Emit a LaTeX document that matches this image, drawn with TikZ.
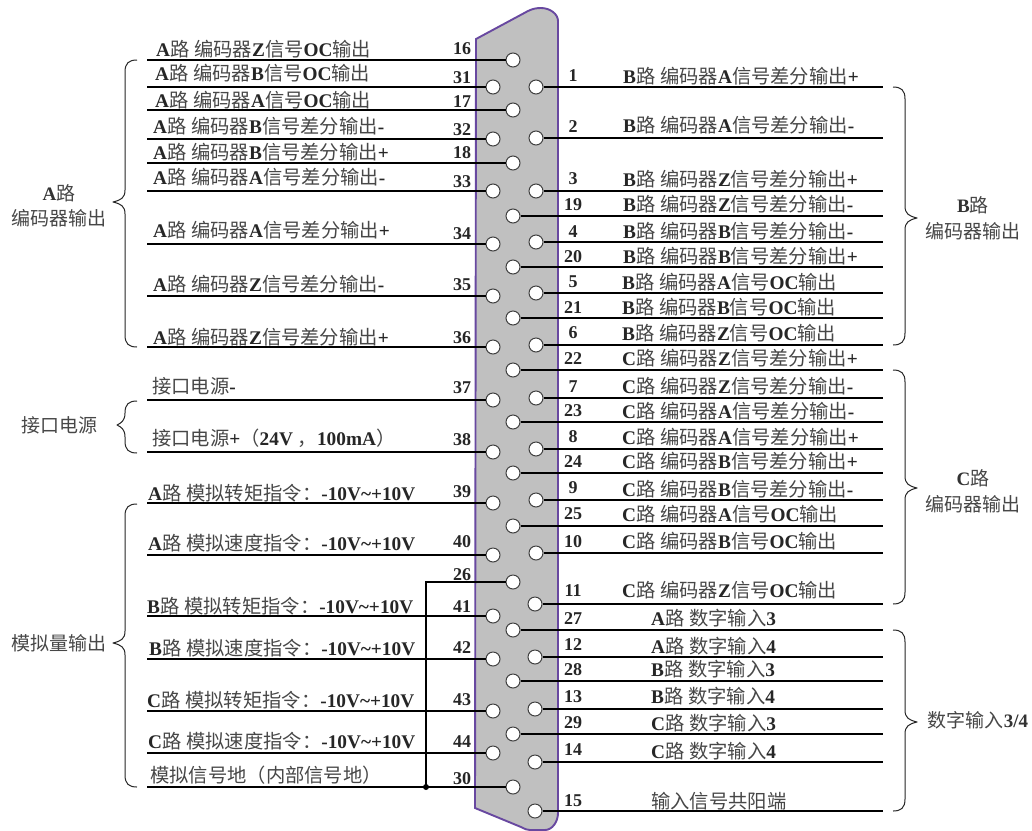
\documentclass[tikz,border=0pt]{standalone}
\usepackage{fontspec}
\setmainfont{Liberation Serif}
\newfontfamily\cjk{Noto Sans CJK SC}
\newcommand{\zh}[1]{{\cjk\mdseries\color{black!72}#1}}
\tikzset{
  pin/.style={circle,draw=black!75,fill=white,line width=1pt,minimum size=14pt,inner sep=0pt},
  wire/.style={line width=1.4pt,black},
  lab/.style={anchor=west,inner sep=0pt,yshift=1pt,font=\fontsize{19.3}{19.3}\selectfont\bfseries,text=black!85},
  num/.style={inner sep=0pt,font=\fontsize{18}{18}\selectfont\bfseries,text=black!85},
  side/.style={inner sep=0pt,font=\fontsize{19}{19}\selectfont\bfseries,text=black!80},
  brace/.style={line width=1pt,black!85,line join=round},
  shell/.style={draw={rgb,255:red,104;green,72;blue,160},fill={rgb,255:red,192;green,192;blue,192},line width=1.9pt}
}
% left pin: number, pin x, pin y, label x, label y, number y, text
\newcommand{\lpin}[7]{%
  \node[pin] (p#1) at (#2,#3) {};
  \coordinate (e#1) at (147,#3);
  \draw[wire] (e#1) -- (p#1.west);
  \node[lab] (t#1) at (#4,#5) {#7};
  \node[num] (n#1) at (462,#6) {#1};
}
% right pin: number, pin x, pin y, label x, label y, number y, text
\newcommand{\rpin}[7]{%
  \node[pin] (p#1) at (#2,#3) {};
  \coordinate (e#1) at (883,#3);
  \draw[wire] (p#1.east) -- (e#1);
  \node[lab] (t#1) at (#4,#5) {#7};
  \node[num] (n#1) at (573,#6) {#1};
}
\newcommand{\leftbr}[5]{% end x, top, tip y, bottom, tip x
  \draw[brace] (#1,#2) .. controls (#1-8,#2) and (#1-12,#2+3) .. (#1-12,#2+12)
    -- (#1-12,#3-12) .. controls (#1-12,#3-4) and (#1-16,#3-2) .. (#5,#3)
    .. controls (#1-16,#3+2) and (#1-12,#3+4) .. (#1-12,#3+12)
    -- (#1-12,#4-12) .. controls (#1-12,#4-3) and (#1-8,#4) .. (#1,#4);
}
\newcommand{\rightbr}[5]{%
  \draw[brace] (#1,#2) .. controls (#1+8,#2) and (#1+12,#2+3) .. (#1+12,#2+12)
    -- (#1+12,#3-12) .. controls (#1+12,#3-4) and (#1+16,#3-2) .. (#5,#3)
    .. controls (#1+16,#3+2) and (#1+12,#3+4) .. (#1+12,#3+12)
    -- (#1+12,#4-12) .. controls (#1+12,#4-3) and (#1+8,#4) .. (#1,#4);
}
\newcommand{\Lu}[1]{#1\zh{路}}
\newcommand{\Bm}[1]{\Lu{#1} \zh{编码器}}
\begin{document}
\begin{tikzpicture}[x=1pt,y=-1pt]
\useasboundingbox (0,0) rectangle (1032,830);
\fill[white] (0,0) rectangle (1032,830);
\path[shell] (476,39) -- (528,11) .. controls (533,8.5) and (537,8) .. (541,8)
  .. controls (550,8) and (558,14) .. (558,21) -- (558,813)
  .. controls (558,822) and (552,830) .. (545,830) -- (530,830)
  .. controls (527,830) and (525,829) .. (521,827) -- (475,808) -- cycle;

\lpin{16}{513}{60}{156}{50}{49}{\Bm{A}Z\zh{信号}OC\zh{输出}}
\lpin{31}{493}{87}{155}{74}{78}{\Bm{A}B\zh{信号}OC\zh{输出}}
\lpin{17}{513}{110}{155}{101}{102}{\Bm{A}A\zh{信号}OC\zh{输出}}
\lpin{32}{493}{139}{153}{127}{130}{\Bm{A}B\zh{信号差分输出}-}
\lpin{18}{513}{163}{153}{153}{153}{\Bm{A}B\zh{信号差分输出}+}
\lpin{33}{493}{191}{153}{178}{182}{\Bm{A}A\zh{信号差分输出}-}
\lpin{34}{493}{244}{153}{231}{234}{\Bm{A}A\zh{信号差分输出}+}
\lpin{35}{493}{296}{153}{285}{285}{\Bm{A}Z\zh{信号差分输出}-}
\lpin{36}{493}{347}{153}{338}{338}{\Bm{A}Z\zh{信号差分输出}+}
\lpin{37}{493}{400}{152}{387}{388}{\zh{接口电源}-}
\lpin{38}{493}{452}{152}{439}{440}{\zh{接口电源}+\zh{（}24V \zh{，}100mA\zh{）}}
\lpin{39}{493}{503}{148}{494}{492}{\Lu{A} \zh{模拟转矩指令：}-10V\textasciitilde+10V}
\lpin{40}{493}{555}{148}{544}{542}{\Lu{A} \zh{模拟速度指令：}-10V\textasciitilde+10V}
\lpin{41}{493}{616}{147}{607}{607}{\Lu{B} \zh{模拟转矩指令：}-10V\textasciitilde+10V}
\lpin{42}{493}{659}{149}{649}{648}{\Lu{B} \zh{模拟速度指令：}-10V\textasciitilde+10V}
\lpin{43}{493}{711}{147}{701}{700}{\Lu{C} \zh{模拟转矩指令：}-10V\textasciitilde+10V}
\lpin{44}{493}{753}{148}{742}{742}{\Lu{C} \zh{模拟速度指令：}-10V\textasciitilde+10V}
\lpin{30}{513}{787}{150}{776}{779}{\zh{模拟信号地（内部信号地）}}

\node[pin] (p26) at (513,582) {};
\node[num] (n26) at (462,575) {26};
\coordinate (j) at (426,787);
\draw[wire] (j) |- (p26.west);
\fill[black] (j) circle (3pt);

\rpin{1}{536}{87}{623}{77}{76}{\Bm{B}A\zh{信号差分输出}+}
\rpin{2}{536}{138}{623}{126}{127}{\Bm{B}A\zh{信号差分输出}-}
\rpin{3}{536}{191}{623}{180}{179}{\Bm{B}Z\zh{信号差分输出}+}
\rpin{19}{513}{216}{623}{205}{205}{\Bm{B}Z\zh{信号差分输出}-}
\rpin{4}{536}{242}{623}{232}{232}{\Bm{B}B\zh{信号差分输出}-}
\rpin{20}{513}{267}{623}{257}{257}{\Bm{B}B\zh{信号差分输出}+}
\rpin{5}{536}{293}{622}{283}{282}{\Bm{B}A\zh{信号}OC\zh{输出}}
\rpin{21}{513}{318}{622}{308}{308}{\Bm{B}B\zh{信号}OC\zh{输出}}
\rpin{6}{536}{345}{622}{334}{333}{\Bm{B}Z\zh{信号}OC\zh{输出}}
\rpin{22}{513}{370}{622}{359}{359}{\Bm{C}Z\zh{信号差分输出}+}
\rpin{7}{536}{398}{622}{387}{387}{\Bm{C}Z\zh{信号差分输出}-}
\rpin{23}{513}{422}{622}{412}{411}{\Bm{C}A\zh{信号差分输出}-}
\rpin{8}{536}{449}{622}{438}{437}{\Bm{C}A\zh{信号差分输出}+}
\rpin{24}{513}{473}{622}{462}{462}{\Bm{C}B\zh{信号差分输出}+}
\rpin{9}{536}{500}{622}{490}{488}{\Bm{C}B\zh{信号差分输出}-}
\rpin{25}{513}{526}{622}{515}{514}{\Bm{C}A\zh{信号}OC\zh{输出}}
\rpin{10}{536}{553}{622}{542}{542}{\Bm{C}B\zh{信号}OC\zh{输出}}
\rpin{11}{535}{604}{622}{591}{591}{\Bm{C}Z\zh{信号}OC\zh{输出}}
\rpin{27}{513}{630}{651}{619}{619}{\Lu{A} \zh{数字输入}3}
\rpin{12}{535}{657}{651}{647}{645}{\Lu{A} \zh{数字输入}4}
\rpin{28}{513}{681}{651}{670}{670}{\Lu{B} \zh{数字输入}3}
\rpin{13}{535}{709}{651}{697}{697}{\Lu{B} \zh{数字输入}4}
\rpin{29}{513}{734}{651}{724}{723}{\Lu{C} \zh{数字输入}3}
\rpin{14}{535}{762}{651}{752}{750}{\Lu{C} \zh{数字输入}4}
\rpin{15}{535}{811}{651}{802}{801}{\zh{输入信号共阳端}}

\leftbr{137}{60}{202}{347}{113}
\leftbr{137}{401}{425}{453}{117}
\leftbr{137}{504}{643}{787}{113}
\rightbr{893}{87}{218}{345}{917}
\rightbr{893}{370}{488}{604}{917}
\rightbr{893}{630}{722}{811}{917}

\node[side] (sa) at (59,193) {\Lu{A}};
\node[side] (sa2) at (59,218) {\zh{编码器输出}};
\node[side] (sp) at (59,425) {\zh{接口电源}};
\node[side] (sm) at (59,643) {\zh{模拟量输出}};
\node[side] (sb) at (973,205) {\Lu{B}};
\node[side] (sb2) at (973,231) {\zh{编码器输出}};
\node[side] (sc) at (973,478) {\Lu{C}};
\node[side] (sc2) at (973,504) {\zh{编码器输出}};
\node[side] (sd) at (978,720) {\zh{数字输入}3/4};
\end{tikzpicture}
\end{document}
